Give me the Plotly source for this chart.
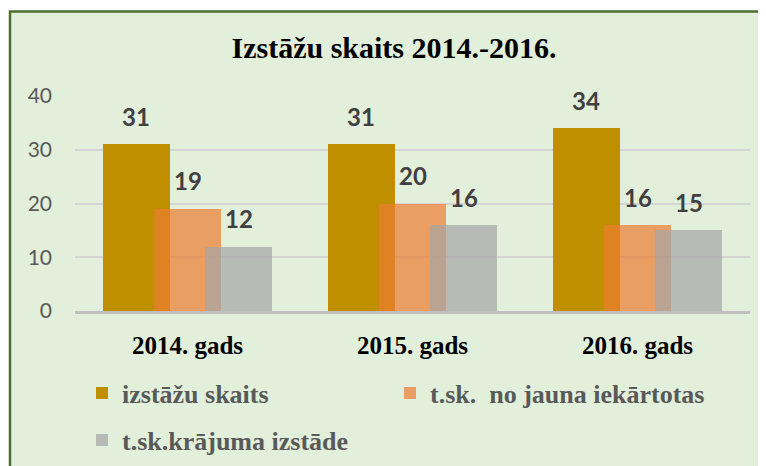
import plotly.graph_objects as go

categories = ["2014. gads", "2015. gads", "2016. gads"]
series_names = ["izstāžu skaits", "t.sk.  no jauna iekārtotas", "t.sk.krājuma izstāde"]
izstazu_skaits = [31, 31, 34]
no_jauna = [19, 20, 16]
krajuma = [12, 16, 15]
title_text = "Izstāžu skaits 2014.-2016."
y_ticks = [0, 10, 20, 30, 40]

series = [izstazu_skaits, no_jauna, krajuma]
colors = ["rgb(191,143,0)", "rgba(237,125,49,0.7)", "rgba(165,165,165,0.7)"]
bar_w = 0.302
centers = [-0.2267, 0.0, 0.2267]
legends = ["legend", "legend3", "legend2"]

SERIF = "Liberation Serif, Times New Roman, serif"

# page body has an 8px default margin; targets below are screen pixels
OFF = 8
W, H = 766, 466
PL, PR, PT, PB = 75, 750, 96, 311   # plot area on screen
L = PL - OFF
R = W - (PR - OFF)
T = PT - OFF
B = H - (PB - OFF)
pw, ph = PR - PL, PB - PT

def px_x(p):
    return (p - PL) / pw

def px_y(p):
    return (PB - p) / ph

fig = go.Figure()
for name, vals, col, c, lg in zip(series_names, series, colors, centers, legends):
    fig.add_trace(go.Bar(
        x=categories, y=vals, name=name,
        marker=dict(color=col, line=dict(width=0)),
        width=bar_w, offset=c - bar_w / 2,
        legend=lg, showlegend=True,
    ))
    for cat, v in zip(categories, vals):
        fig.add_annotation(
            x=cat, y=v, text=str(v), showarrow=False,
            xshift=c * 225, yshift=28, yanchor="middle",
            font=dict(family="Lato", size=24, color="#404040", weight="bold"),
        )

fig.add_shape(type="rect", xref="paper", yref="paper",
              x0=px_x(10), y0=px_y(490), x1=px_x(800), y1=px_y(11.5),
              fillcolor="#E2EFDA", line=dict(color="#4E6E2E", width=2.5),
              layer="below")

legend_font = dict(family=SERIF, size=26, color="#595959", weight="bold")

def leg(xp, yp):
    return dict(orientation="h", x=px_x(xp), xanchor="left", y=px_y(yp), yanchor="middle",
                itemwidth=30, bgcolor="rgba(0,0,0,0)", font=legend_font, visible=True)

fig.update_layout(
    width=W, height=H,
    showlegend=True,
    margin=dict(l=L, r=R, t=T, b=B, autoexpand=False),
    font=dict(family=SERIF),
    paper_bgcolor="white",
    plot_bgcolor="#FDF2DC",
    barmode="overlay",
    bargap=0,
    title=dict(text=title_text, x=(394 - OFF) / W, xanchor="center",
               y=1 - (47 - OFF) / H, yanchor="middle",
               font=dict(family=SERIF, size=30, color="black", weight="bold")),
    xaxis=dict(
        type="category", showgrid=False, showline=True, linecolor="#BFBFBF", linewidth=2.5,
        ticks="", ticklabelstandoff=10,
        tickfont=dict(family=SERIF, size=25, color="black", weight="bold"),
        range=[-0.5, 2.5],
    ),
    yaxis=dict(
        range=[0, 40], tickvals=y_ticks, showgrid=True, gridcolor="#D4D4D4", gridwidth=2,
        zeroline=False, showline=False, ticklabelstandoff=22,
        tickfont=dict(family="Lato", size=21, color="#595959"),
    ),
    legend=leg(82, 393),
    legend3=leg(390, 393),
    legend2=leg(82, 440),
)

fig.write_html("out.html")
